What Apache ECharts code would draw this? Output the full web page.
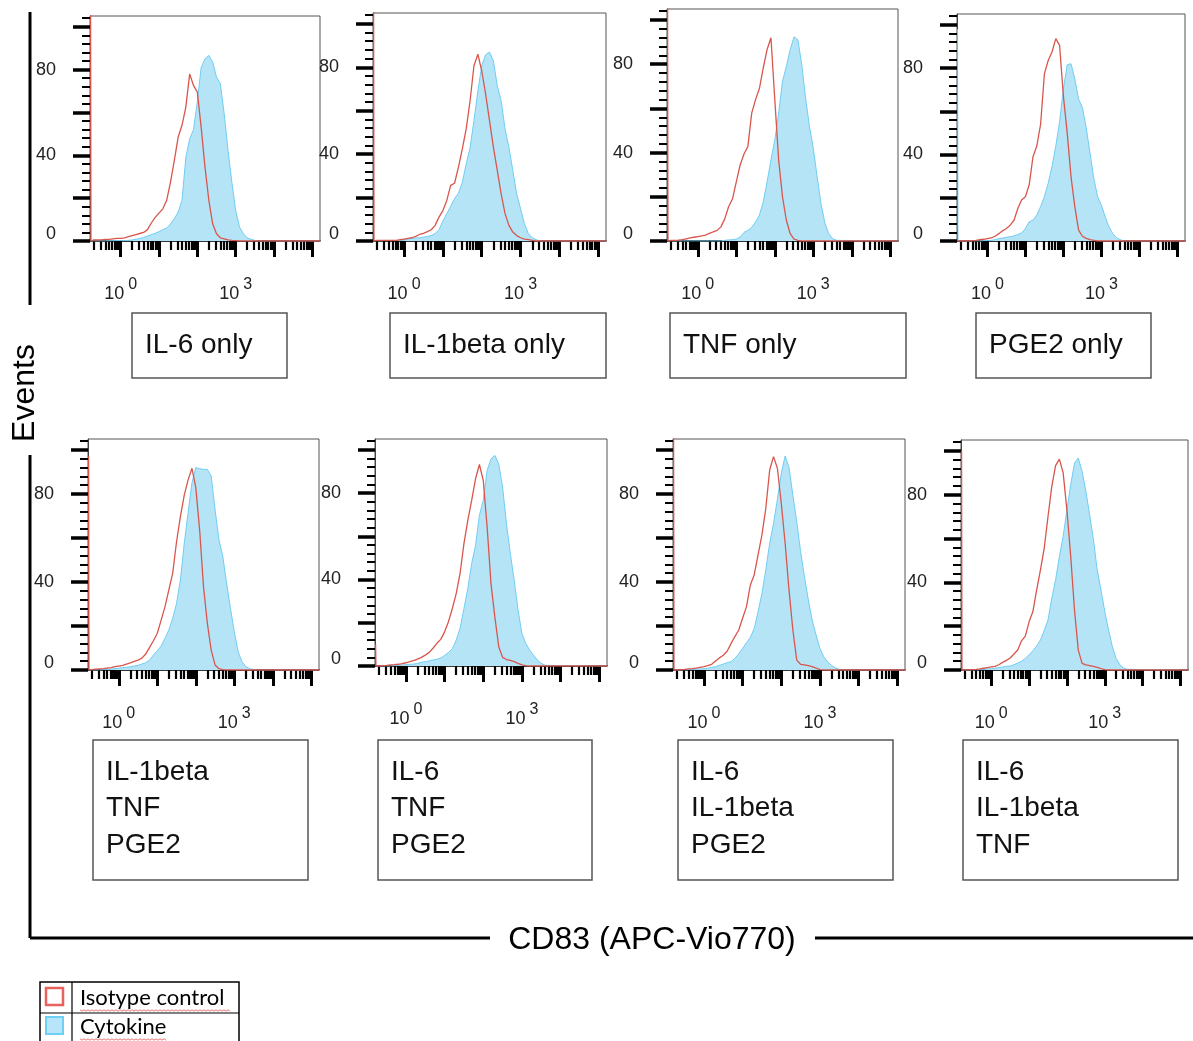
<!DOCTYPE html>
<html>
<head>
<meta charset="utf-8">
<script src="https://cdn.jsdelivr.net/npm/echarts@6/dist/echarts.min.js"></script>
<style>
html, body { margin: 0; padding: 0; background: #fff; }
#main { width: 1193px; height: 1041px; }
</style>
</head>
<body>
<div id="main"></div>
<script>
// log10 of CD83 intensity where the histograms were read (first two points = off-scale pile-up at the left edge)
var logPos = [-0.785, -0.775, -0.7, -0.6, -0.5, -0.4, -0.3, -0.2, -0.1,
    0, 0.1, 0.2, 0.3, 0.4, 0.5, 0.6, 0.7, 0.8, 0.9,
    1, 1.1, 1.2, 1.3, 1.4, 1.5, 1.6, 1.7, 1.8, 1.9,
    2, 2.1, 2.2, 2.3, 2.4, 2.5, 2.6, 2.7, 2.8, 2.9,
    3, 3.1, 3.2, 3.3, 3.4, 3.5, 3.6, 5.2];

// events per bin, isotype control (red) and cytokine (blue), one pair per panel
var isoIL6Only = [110, 0, 0.5, 0.5, 0.5, 0.8, 0.8, 1, 1.2, 1.2, 1.5, 2, 2.5, 3, 3.5, 4, 5.3, 8.4, 11, 13, 15, 19, 27.5, 37.6, 48.5, 54, 62.5, 78, 72.6, 69.5, 53, 34.5, 19, 8, 3.4, 1.5, 1, 0.5, 0.3, 0.2, 0, 0, 0, 0, 0, 0, 0];
var cytIL6Only = [0, 0, 0, 0, 0, 0, 0.1, 0.1, 0.2, 0.2, 0.2, 0.3, 0.5, 0.8, 1.2, 1.7, 2.3, 3, 3.6, 4.4, 5.3, 6, 8, 10.4, 13.5, 19, 39, 47.7, 52, 65, 81, 85, 86.6, 83.5, 76.5, 73.4, 59.4, 42.3, 27.5, 14.3, 6.5, 3.4, 1.5, 0.8, 0.3, 0, 0];
var isoIL1bOnly = [110, 0, 0.3, 0.3, 0.3, 0.3, 0.3, 0.3, 0.6, 0.9, 1.2, 1.5, 2.1, 3, 3.5, 4.3, 5.2, 7.2, 11, 14, 18.7, 25.6, 26.6, 34, 42.4, 51.6, 64.6, 80.7, 86, 78.4, 67.7, 55.4, 43.2, 32.5, 21.7, 12.6, 7.2, 4.1, 2.5, 1.5, 0.9, 0.6, 0.3, 0, 0, 0, 0];
var cytIL1bOnly = [0, 0, 0.1, 0.1, 0.2, 0.2, 0.2, 0.2, 0.3, 0.5, 0.9, 1.1, 1.4, 1.5, 1.8, 2.1, 2.5, 3.4, 5.2, 9.2, 12.6, 16, 19.5, 22, 27, 35.5, 43, 55.4, 69, 80.7, 85.8, 87, 83, 71.5, 64.6, 51.6, 43.2, 32.5, 21.7, 14.9, 8, 3.4, 1.5, 0.6, 0, 0, 0];
var isoTNFOnly = [110, 0, 0.3, 0.3, 0.4, 0.6, 1, 1.4, 1.7, 2, 2.3, 2.7, 3.5, 4.1, 4.8, 6.4, 10, 15.5, 19, 26.8, 34.4, 39.4, 42.7, 57.9, 64, 69, 78.3, 86.7, 92, 64, 36.7, 20, 9.4, 3.3, 0.9, 0.3, 0, 0, 0, 0, 0, 0, 0, 0, 0, 0, 0];
var cytTNFOnly = [0, 0, 0, 0, 0, 0, 0, 0, 0, 0, 0, 0, 0, 0, 0, 0, 0.3, 0.5, 0.6, 0.9, 1.8, 3.9, 4.8, 6.2, 8.6, 11.7, 17.7, 26.8, 36.7, 45.8, 57.9, 72.3, 79, 86.7, 92.4, 91, 79.8, 64.7, 51.8, 42, 29, 17, 8.2, 3.3, 1.1, 0.3, 0];
var isoPGE2Only = [0, 0, 0, 0, 0, 0.2, 0.3, 0.6, 0.8, 1.1, 1.4, 2.2, 3.4, 4.7, 5.8, 7.3, 9.6, 15, 19, 20.5, 26, 39, 43.9, 54, 77.3, 83.5, 87.4, 93.6, 90.5, 67, 50, 29.8, 15.9, 5, 2.2, 1.2, 0.6, 0.3, 0, 0, 0, 0, 0, 0, 0, 0, 0];
var cytPGE2Only = [98, 0, 0, 0, 0, 0, 0, 0, 0.2, 0.2, 0.3, 0.6, 1.1, 1.4, 1.7, 2, 2.3, 3, 3.7, 5.8, 8.9, 9.6, 12, 15.9, 20.5, 26.7, 34.5, 43.9, 55.2, 70.3, 81.5, 82, 75, 65.6, 61.7, 52.4, 40.7, 29, 20.5, 16.6, 11.2, 6.5, 3.4, 1.5, 0.6, 0, 0];
var isoNoIL6 = [97, 0, 0.2, 0.4, 0.5, 0.6, 0.9, 1.1, 1.5, 1.8, 2.1, 2.7, 3.2, 3.9, 4.5, 5.4, 7.3, 10.3, 13.3, 16.7, 22.7, 28.8, 36.4, 44, 58.3, 69.7, 79.5, 86.4, 91.7, 82.9, 63.6, 37.9, 21.2, 9, 2.3, 0.6, 0.2, 0, 0, 0, 0, 0, 0, 0, 0, 0, 0];
var cytNoIL6 = [0, 0, 0, 0, 0, 0.2, 0.3, 0.5, 0.6, 0.8, 1.1, 1.2, 1.5, 1.8, 2.1, 2.7, 3.3, 4.5, 6.8, 8.8, 10.9, 14.4, 18.2, 23.5, 30.3, 40.9, 57.6, 71.5, 85, 92, 91.5, 91.2, 91.2, 88.2, 73, 59.4, 51.8, 39.4, 28, 17.4, 8.3, 3.8, 1.5, 0.6, 0.3, 0, 0];
var isoNoIL1b = [10, 0, 0, 0.2, 0.3, 0.5, 0.6, 0.8, 1.1, 1.5, 2, 2.5, 3.2, 4, 5, 6.3, 8.2, 10.5, 12.3, 15.8, 20.5, 26.6, 33.5, 42.8, 56.6, 67.4, 76.6, 86.6, 93.2, 85.8, 64.3, 38, 22.6, 8.9, 4, 3, 2.6, 2, 1.2, 0.5, 0.2, 0, 0, 0, 0, 0, 0];
var cytNoIL1b = [0, 0, 0, 0, 0, 0, 0.2, 0.3, 0.5, 0.6, 0.8, 0.9, 1.2, 1.7, 2, 2.3, 2.8, 3.1, 3.7, 4.9, 6.2, 8, 12, 17.4, 26.6, 35.8, 47.4, 55.8, 69.7, 76.6, 90.5, 95.8, 97.4, 93.5, 82.8, 65.8, 52, 39.7, 25.8, 15, 10.4, 7.4, 5, 2.8, 1.2, 0.3, 0];
var isoNoTNF = [110, 0, 0, 0.2, 0.3, 0.5, 0.6, 0.9, 1.2, 1.5, 2, 2.6, 4.1, 5.5, 6.7, 8.5, 12, 15.2, 18.2, 23.5, 28.8, 38.6, 43.2, 52.3, 61.4, 73.5, 90.9, 97, 91.7, 75.8, 57.6, 36.4, 18.2, 4.5, 2.6, 2.3, 2, 1.5, 0.9, 0.2, 0, 0, 0, 0, 0, 0, 0];
var cytNoTNF = [0, 0, 0, 0, 0, 0.2, 0.3, 0.4, 0.5, 0.6, 0.8, 1.2, 1.5, 2.1, 2.7, 3.3, 3.8, 5.3, 7.3, 9.8, 12.4, 14.8, 18.9, 26.5, 34.8, 45.5, 57.6, 66.7, 77.6, 89.4, 97.3, 92, 79.5, 67.4, 53.8, 42.4, 31.8, 22.7, 15.9, 9.8, 6, 3.6, 2.1, 1, 0.3, 0, 0];
var isoNoPGE2 = [100, 0, 0, 0.1, 0.2, 0.3, 0.5, 0.8, 1.1, 1.4, 1.7, 2.4, 3.5, 4.4, 5.5, 7.3, 9.1, 13.3, 15.5, 22, 26.7, 36.6, 45.7, 55.6, 70.1, 83.8, 93.3, 96.3, 90, 73, 51.8, 27.4, 9.1, 3, 2.3, 2, 1.7, 1.2, 0.6, 0.2, 0, 0, 0, 0, 0, 0, 0];
var cytNoPGE2 = [0, 0, 0, 0, 0, 0.1, 0.2, 0.3, 0.5, 0.6, 0.8, 1.1, 1.4, 1.7, 1.8, 2.4, 3.2, 4, 5.3, 6.9, 8.8, 11, 13.7, 18, 22.9, 32.8, 41.2, 51.8, 61, 73.2, 84.6, 94.5, 96.8, 90.7, 81.6, 70.9, 59.5, 45.7, 36.6, 26.7, 18.3, 10.7, 5.3, 2.3, 0.9, 0.3, 0];

var panelLabels = [
    ['IL-6 only'], ['IL-1beta only'], ['TNF only'], ['PGE2 only'],
    ['IL-1beta', 'TNF', 'PGE2'], ['IL-6', 'TNF', 'PGE2'],
    ['IL-6', 'IL-1beta', 'PGE2'], ['IL-6', 'IL-1beta', 'TNF']
];
var isoData = [isoIL6Only, isoIL1bOnly, isoTNFOnly, isoPGE2Only, isoNoIL6, isoNoIL1b, isoNoTNF, isoNoPGE2];
var cytData = [cytIL6Only, cytIL1bOnly, cytTNFOnly, cytPGE2Only, cytNoIL6, cytNoIL1b, cytNoTNF, cytNoPGE2];
var seriesNames = ['Isotype control', 'Cytokine'];

var yLabelValues = [0, 40, 80];
var yMajorTicks = [0, 20, 40, 60, 80, 100];
var yMinorTicks = [4, 8, 12, 16, 24, 28, 32, 36, 44, 48, 52, 56, 64, 68, 72, 76, 84, 88, 92, 96, 104];
var xLabelDecades = [0, 3];
var xDecadeTicks = [0, 1, 2, 3, 4, 5];
var xMinorTicks = [];
[-1, 0, 1, 2, 3, 4, 5].forEach(function (d) {
    [2, 3, 4, 5, 6, 7, 8, 9].forEach(function (k) {
        var v = d + Math.log10(k);
        if (v > -0.8 && v < 5.2) xMinorTicks.push(v);
    });
});

// plot boxes [left, top, width, height]
var panelBoxes = [
    [90, 16, 230, 225], [373, 13, 233, 228], [667, 9, 231, 232], [957, 14, 228, 227],
    [88, 439, 231, 231], [375, 439, 232, 227], [673, 439, 232, 231], [961, 440, 227, 230]
];
// condition label boxes [left, top, width, height]
var labelBoxes = [
    [132, 313, 155, 65], [390, 313, 216, 65], [670, 313, 236, 65], [976, 313, 175, 65],
    [93, 740, 215, 140], [378, 740, 214, 140], [678, 740, 215, 140], [963, 740, 215, 140]
];

var FONT = 'Liberation Sans, Arial, sans-serif';
var RED = '#d9564d', BLUE_LINE = '#6fcdf2', BLUE_FILL = '#b5e4f7';

var grids = [], xAxes = [], yAxes = [], series = [], graphics = [];

panelBoxes.forEach(function (b, i) {
    var g = 2 * i;
    grids.push({left: b[0], top: b[1], width: b[2], height: b[3], show: true,
        borderColor: '#555', borderWidth: 1, outerBoundsMode: 'none'});
    grids.push({left: b[0], top: b[1], width: b[2], height: b[3], show: false, outerBoundsMode: 'none'});

    xAxes.push({
        gridIndex: g, type: 'value', min: -0.8, max: 5.2,
        axisLine: {show: true, onZero: false, lineStyle: {color: '#111', width: 1.5}},
        axisTick: {show: true, customValues: xDecadeTicks, length: 16, lineStyle: {color: '#000', width: 3}},
        axisLabel: {
            customValues: xLabelDecades, margin: 36, color: '#222',
            formatter: function (v) { return '{b|10}{s|' + Math.round(v) + '}'; },
            rich: {
                b: {fontSize: 18, fontFamily: FONT, color: '#222', lineHeight: 26, verticalAlign: 'bottom'},
                s: {fontSize: 16, fontFamily: FONT, color: '#222', verticalAlign: 'top', padding: [0, 0, 0, 4]}
            }
        },
        splitLine: {show: false}
    });
    xAxes.push({
        gridIndex: g + 1, type: 'value', min: -0.8, max: 5.2,
        axisLine: {show: false, onZero: false},
        axisTick: {show: true, customValues: xMinorTicks, length: 9, lineStyle: {color: '#000', width: 2.2}},
        axisLabel: {show: false},
        splitLine: {show: false}
    });
    yAxes.push({
        gridIndex: g, type: 'value', min: 0, max: 105,
        axisLine: {show: true, onZero: false, lineStyle: {color: '#444', width: 1}},
        axisTick: {show: true, customValues: yMajorTicks, length: 17, lineStyle: {color: '#000', width: 3.5}},
        axisLabel: {
            customValues: yLabelValues, margin: 34, fontSize: 18, fontFamily: FONT, color: '#222',
            // the zero label sits a little above the baseline, as in the original
            formatter: function (v) { return v === 0 ? '{z|0}' : String(v); },
            rich: {z: {fontSize: 18, fontFamily: FONT, color: '#222', padding: [0, 0, 14, 0]}}
        },
        splitLine: {show: false}
    });
    yAxes.push({
        gridIndex: g + 1, type: 'value', min: 0, max: 105,
        axisLine: {show: false, onZero: false},
        axisTick: {show: true, customValues: yMinorTicks, length: 8, lineStyle: {color: '#000', width: 2}},
        axisLabel: {show: false},
        splitLine: {show: false}
    });

    series.push({
        name: seriesNames[1], type: 'line', xAxisIndex: g, yAxisIndex: g,
        data: logPos.map(function (x, k) { return [x, cytData[i][k]]; }),
        showSymbol: false, symbol: 'none', silent: true, z: 2,
        lineStyle: {color: BLUE_LINE, width: 1},
        areaStyle: {color: BLUE_FILL, opacity: 1}
    });
    series.push({
        name: seriesNames[0], type: 'line', xAxisIndex: g, yAxisIndex: g,
        data: logPos.map(function (x, k) { return [x, isoData[i][k]]; }),
        showSymbol: false, symbol: 'none', silent: true, z: 3,
        lineStyle: {color: RED, width: 1.3}
    });
});

// condition label boxes
labelBoxes.forEach(function (b, i) {
    graphics.push({type: 'rect', shape: {x: b[0], y: b[1], width: b[2], height: b[3]},
        style: {fill: 'transparent', stroke: '#555', lineWidth: 1.5}});
    graphics.push({type: 'text', x: b[0] + 13, y: b[1] + 14,
        style: {text: panelLabels[i].join('\n'), fontSize: 28, fontFamily: FONT, fill: '#111',
            lineHeight: 36.5, align: 'left', verticalAlign: 'top'}});
});

// shared axis frame and titles
[[30, 12, 30, 305], [30, 455, 30, 938], [30, 938, 490, 938], [815, 938, 1193, 938]].forEach(function (l) {
    graphics.push({type: 'line', shape: {x1: l[0], y1: l[1], x2: l[2], y2: l[3]},
        style: {stroke: '#000', lineWidth: 3}});
});
graphics.push({type: 'text', x: 25, y: 393, rotation: Math.PI / 2,
    style: {text: 'Events', fontSize: 32, fontFamily: FONT, fill: '#000', align: 'center', verticalAlign: 'middle'}});
graphics.push({type: 'text', x: 652, y: 940,
    style: {text: 'CD83 (APC-Vio770)', fontSize: 32, fontFamily: FONT, fill: '#000', align: 'center', verticalAlign: 'middle'}});

// legend table
graphics.push({type: 'rect', shape: {x: 40, y: 982, width: 199, height: 75}, style: {fill: '#fff', stroke: '#000', lineWidth: 1.5}});
graphics.push({type: 'line', shape: {x1: 40, y1: 1013, x2: 239, y2: 1013}, style: {stroke: '#000', lineWidth: 1.2}});
graphics.push({type: 'line', shape: {x1: 72, y1: 982, x2: 72, y2: 1041}, style: {stroke: '#000', lineWidth: 1.2}});
graphics.push({type: 'rect', shape: {x: 46, y: 988, width: 17, height: 17}, style: {fill: '#fff', stroke: '#e8615c', lineWidth: 2.5}});
graphics.push({type: 'rect', shape: {x: 46, y: 1017, width: 17, height: 17}, style: {fill: '#b7e6fb', stroke: '#6ed0f5', lineWidth: 2}});
[[seriesNames[0], 998, 150], [seriesNames[1], 1027, 86]].forEach(function (t) {
    graphics.push({type: 'text', x: 80, y: t[1],
        style: {text: t[0], fontSize: 22, fontFamily: 'Lato, Open Sans, sans-serif', fill: '#000', align: 'left', verticalAlign: 'middle'}});
    // spell-check squiggle under the word
    var pts = [];
    for (var px = 0; px <= t[2]; px += 2) pts.push([80 + px, t[1] + 12 + ((px / 2) % 2 ? 1.2 : -0.2)]);
    graphics.push({type: 'polyline', shape: {points: pts}, style: {stroke: '#e05050', lineWidth: 0.8, fill: null}});
});

var chart = echarts.init(document.getElementById('main'));
chart.setOption({
    backgroundColor: '#fff',
    animation: false,
    grid: grids,
    xAxis: xAxes,
    yAxis: yAxes,
    series: series,
    graphic: graphics
});
</script>
</body>
</html>
